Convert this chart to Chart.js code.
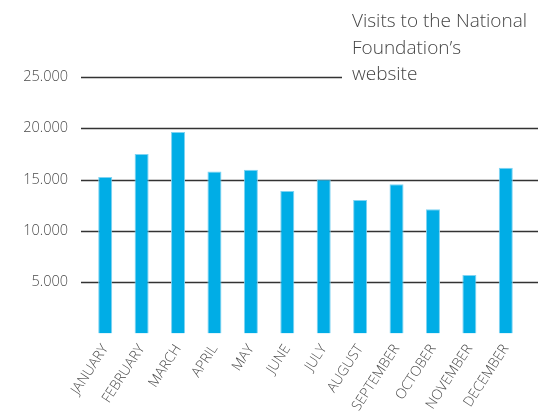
<!DOCTYPE html>
<html>
<head>
<meta charset="utf-8">
<script src="https://cdn.jsdelivr.net/npm/chart.js@4/dist/chart.umd.min.js"></script>
<style>
html,body{margin:0;padding:0;background:#fff;}
#wrap{position:relative;width:538px;height:411px;}
</style>
</head>
<body>
<div id="wrap"><canvas id="c" width="538" height="411"></canvas></div>
<script>
const months = ["JANUARY","FEBRUARY","MARCH","APRIL","MAY","JUNE","JULY","AUGUST","SEPTEMBER","OCTOBER","NOVEMBER","DECEMBER"];
const visits = [15250, 17500, 19650, 15800, 15950, 13900, 15000, 13000, 14550, 12100, 5700, 16150];
const yTicks = [5000, 10000, 15000, 20000, 25000];
const titleLines = ["Visits to the National", "Foundation\u2019s", "website"];

const FONT = "'Open Sans', 'Noto Sans', sans-serif";

function fmt(v){ return String(v).replace(/\B(?=(\d{3})+(?!\d))/g, "."); }

const gridPlugin = {
  id: 'customGrid',
  beforeDatasetsDraw(chart){
    const ctx = chart.ctx, y = chart.scales.y;
    ctx.save();
    ctx.strokeStyle = '#333';
    ctx.lineWidth = 1.3;
    yTicks.forEach(v => {
      const py = Math.round(y.getPixelForValue(v)) + 0.5;
      const x1 = v === 25000 ? 342 : chart.width;
      ctx.beginPath();
      ctx.moveTo(81, py);
      ctx.lineTo(x1, py);
      ctx.stroke();
    });
    ctx.restore();
  }
};

const titlePlugin = {
  id: 'sideTitle',
  afterDraw(chart){
    const ctx = chart.ctx;
    ctx.save();
    ctx.fillStyle = '#444';
    ctx.font = "300 19px " + FONT;
    ctx.textAlign = 'left';
    ctx.textBaseline = 'alphabetic';
    titleLines.forEach((t, i) => ctx.fillText(t, 352, 27 + i * 26.5));
    ctx.restore();
  }
};

new Chart(document.getElementById('c'), {
  type: 'bar',
  data: {
    labels: months,
    datasets: [{
      data: visits,
      backgroundColor: '#00ADE6',
      borderColor: '#7FD3F2',
      borderWidth: {top: 1, left: 1, right: 1, bottom: 0},
      barPercentage: 0.385,
      categoryPercentage: 1.0
    }]
  },
  options: {
    responsive: false,
    animation: false,
    devicePixelRatio: 1,
    layout: { padding: { top: 77, right: 14, left: 0, bottom: 0 } },
    plugins: { legend: { display: false }, tooltip: { enabled: false } },
    scales: {
      x: {
        grid: { display: false, drawTicks: false },
        border: { display: false },
        ticks: {
          color: '#4a4a4a',
          font: { family: FONT, size: 14, weight: '300' },
          minRotation: 57,
          maxRotation: 57,
          padding: 8,
          autoSkip: false
        },
        afterFit(s){ s.height = 77.5; }
      },
      y: {
        min: 0,
        max: 25000,
        grid: { display: false, drawTicks: false },
        border: { display: false },
        afterBuildTicks(s){ s.ticks = yTicks.map(v => ({ value: v })); },
        ticks: {
          color: '#4a4a4a',
          font: { family: FONT, size: 14.5, weight: '300' },
          padding: 19,
          callback: v => fmt(v)
        },
        afterFit(s){ s.width = 87; }
      }
    }
  },
  plugins: [gridPlugin, titlePlugin]
});
</script>
</body>
</html>
